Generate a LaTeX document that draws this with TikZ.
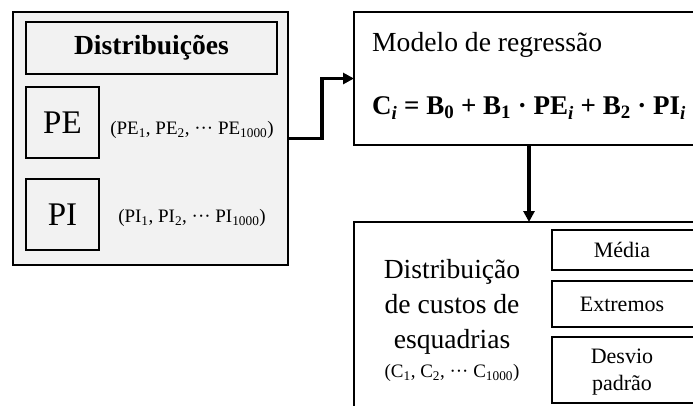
\documentclass[tikz,border=0pt]{standalone}
\usepackage{fontspec}
\setmainfont{Liberation Serif}
\usetikzlibrary{arrows.meta}
\begin{document}
\begin{tikzpicture}[x=1pt,y=-1pt,
  box/.style={draw, line width=1.6pt, inner sep=0pt, outer sep=0pt},
  bigtext/.style={font=\fontsize{27.6}{35}\selectfont},
  hugetext/.style={font=\fontsize{33}{38}\selectfont},
  seqtext/.style={font=\fontsize{19}{22}\selectfont, inner sep=0pt},
  stattext/.style={font=\fontsize{22}{27}\selectfont, align=center, inner sep=0pt},
  flow/.style={line width=3.4pt, -{Triangle[length=11pt,width=11pt]}}]
\useasboundingbox (0,0) rectangle (693,405);
\clip (0,0) rectangle (693,405);
\definecolor{panel}{HTML}{F2F2F2}
% left panel
\node[box, fill=panel, minimum width=275pt, minimum height=253pt] (outer) at (150.5,138.5) {};
\node[box, fill=panel, minimum width=251pt, minimum height=52pt, font=\bfseries\fontsize{27.6}{33}\selectfont] (dist) at (151.5,48) {Distribuições};
\node[box, minimum width=73pt, minimum height=71pt, hugetext] (pe) at (62.5,122.5) {PE};
\node[box, minimum width=73pt, minimum height=71pt, hugetext] (pi) at (62.5,214.5) {PI};
\node[seqtext] (peseq) at (192,130) {(PE\textsubscript{1}, PE\textsubscript{2}, ··· PE\textsubscript{1000})};
\node[seqtext] (piseq) at (192,218) {(PI\textsubscript{1}, PI\textsubscript{2}, ··· PI\textsubscript{1000})};
% model
\node[box, minimum width=366pt, minimum height=133pt] (model) at (537,78.5) {};
\node[bigtext, anchor=west, inner sep=0pt] (mtitle) at (372,45) {Modelo de regressão};
\node[anchor=west, inner sep=0pt, font=\bfseries\fontsize{27}{33}\selectfont] (formula) at (372,108)
  {C\textsubscript{\textit{i}} = B\textsubscript{0} + B\textsubscript{1} · PE\textsubscript{\textit{i}} + B\textsubscript{2} · PI\textsubscript{\textit{i}}};
% result
\node[box, minimum width=366pt, minimum height=220pt] (res) at (537,332) {};
\node[bigtext, align=center, inner sep=0pt] (restext) at (452,307) {Distribuição\\de custos de\\esquadrias};
\node[seqtext] (cseq) at (452,373) {(C\textsubscript{1}, C\textsubscript{2}, ··· C\textsubscript{1000})};
\node[box, minimum width=168pt, minimum height=40pt] (media) at (636,250) {};
\node[box, minimum width=168pt, minimum height=46pt] (extr) at (636,304) {};
\node[box, minimum width=168pt, minimum height=66pt] (desv) at (636,370) {};
\node[stattext] (mediat) at (622,250) {Média};
\node[stattext] (extrt) at (622,304) {Extremos};
\node[stattext] (desvt) at (622,372) {Desvio\\padrão};
% connectors
\draw[flow] (outer.east) -- ([xshift=34pt]outer.east) |- (model.west);
\draw[flow] ([xshift=175pt]model.south west) -- ([xshift=175pt]res.north west);
\end{tikzpicture}
\end{document}
